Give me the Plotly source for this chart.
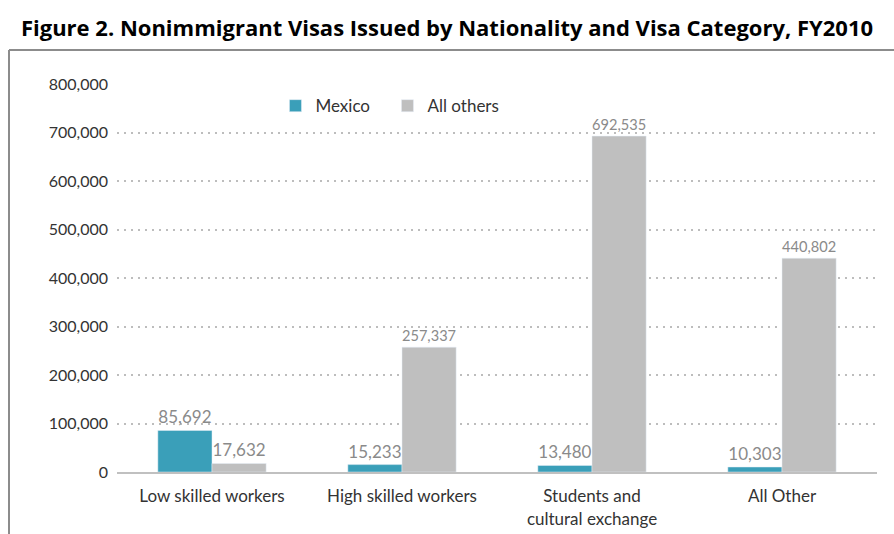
import plotly.graph_objects as go

categories = ["Low skilled workers", "High skilled workers",
              "Students and<br>cultural exchange", "All Other"]
mexico = [85692, 15233, 13480, 10303]
all_others = [17632, 257337, 692535, 440802]
y_ticks = [0, 100000, 200000, 300000, 400000, 500000, 600000, 700000, 800000]

TEAL = "#3A9FB9"
GRAY = "#BFBFBF"
FONT = "Lato, 'Open Sans', sans-serif"

fig = go.Figure()
fig.add_trace(go.Bar(
    name="Mexico", x=categories, y=mexico, marker_color=TEAL,
    text=[f"{v:,}" for v in mexico], textposition="outside",
    textfont=dict(color="#8a8a8a", size=17), cliponaxis=False,
))
fig.add_trace(go.Bar(
    name="All others", x=categories, y=all_others, marker_color=GRAY,
    text=[f"{v:,}" for v in all_others], textposition="outside",
    textfont=dict(color="#8a8a8a", size=17), cliponaxis=False,
))

# outer frame (left and top edges) around the plotting region
frame = dict(type="line", xref="paper", yref="paper",
             line=dict(color="#8c8c8c", width=2), layer="below")
fig.add_shape(**frame, x0=-0.1421, x1=-0.1421, y0=1.0876, y1=-0.16)
fig.add_shape(**frame, x0=-0.1421, x1=1.03, y0=1.0876, y1=1.0876)

fig.update_layout(
    width=894, height=534,
    margin=dict(l=117, r=17, t=84, b=62),
    paper_bgcolor="white", plot_bgcolor="white",
    font=dict(family=FONT, color="#333333", size=15),
    barmode="group", bargap=0.43, bargroupgap=0,
    title=dict(
        text="<b>Figure 2. Nonimmigrant Visas Issued by Nationality and Visa Category, FY2010</b>",
        x=0.5, xanchor="center", y=0.947, yanchor="middle",
        font=dict(family="'Open Sans', sans-serif", size=22, color="#000000"),
    ),
    legend=dict(
        orientation="h", x=0.2085, y=0.943, xanchor="left", yanchor="middle",
        font=dict(size=17, color="#333333"), bgcolor="rgba(0,0,0,0)",
        itemwidth=30, traceorder="normal", entrywidth=67, entrywidthmode="pixels",
    ),
    showlegend=True,
)
fig.update_yaxes(
    range=[0, 800000], tickvals=y_ticks,
    ticktext=[f"{v:,}" for v in y_ticks],
    showgrid=True, gridcolor="#bdbdbd", griddash="2px,5px", gridwidth=1.5,
    zeroline=False, ticks="", showline=False, automargin=False,
    tickfont=dict(size=16, color="#333333"), ticklabelstandoff=8,
)
fig.update_xaxes(
    showline=True, linecolor="#c0c0c0", linewidth=2, automargin=False,
    ticks="", tickfont=dict(size=17, color="#333333"), ticklabelstandoff=8,
)

fig.write_html("out.html")
